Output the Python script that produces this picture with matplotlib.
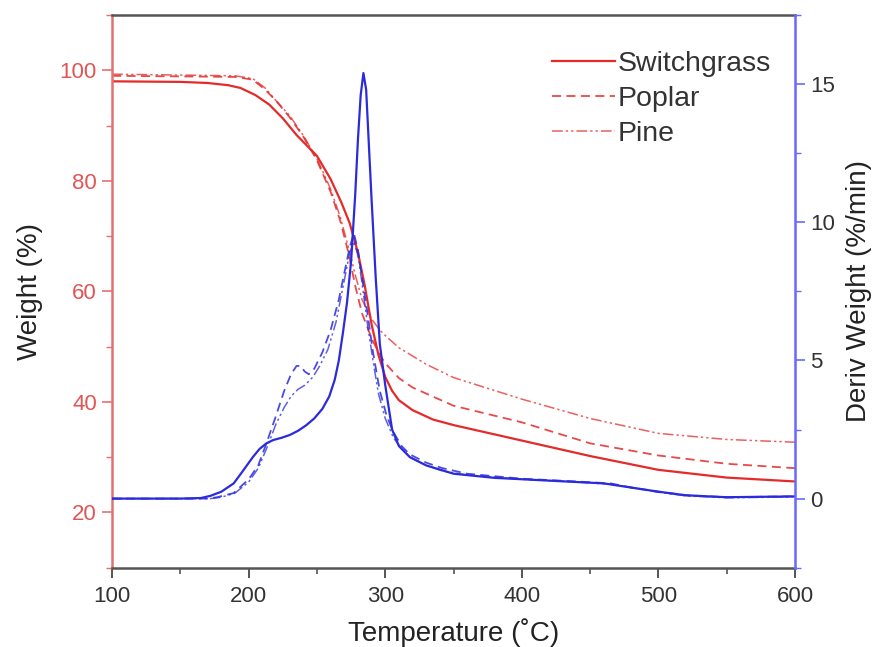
import matplotlib
matplotlib.use("Agg")
from matplotlib import pyplot as plt
from matplotlib.ticker import MultipleLocator

plt.rcParams['font.family'] = ['Liberation Sans', 'DejaVu Sans']

# ---------------- WEIGHT (TGA) ----------------
sw_t = [100, 150, 170, 185, 194, 205, 215, 225, 235, 250, 260, 268, 274, 280, 285,
        290, 295, 300, 305, 310, 320, 335, 350, 400, 450, 500, 550, 600]
sw_w = [98.0, 97.9, 97.7, 97.3, 96.8, 95.5, 93.8, 91.3, 88.3, 84.5, 80.3, 76.0, 72.3, 67.0, 61.0,
        54.0, 48.5, 44.5, 42.0, 40.3, 38.5, 36.8, 35.8, 33.0, 30.2, 27.7, 26.3, 25.6]

po_t = [100, 190, 203, 212, 220, 230, 240, 250, 260, 267, 273, 278, 283, 290, 296,
        300, 310, 320, 350, 400, 450, 500, 550, 600]
po_w = [99.0, 98.8, 98.3, 96.5, 94.5, 91.5, 88.0, 83.7, 78.0, 72.8, 67.0, 61.0, 56.0, 51.5, 48.5,
        47.0, 44.3, 42.6, 39.3, 36.3, 32.5, 30.3, 28.8, 28.0]

pi_t = [100, 190, 203, 212, 220, 230, 240, 250, 260, 267, 273, 278, 283, 290, 296,
        300, 310, 330, 350, 400, 450, 500, 550, 600]
pi_w = [99.3, 99.0, 98.5, 96.8, 94.5, 91.8, 88.2, 84.0, 78.5, 73.5, 68.0, 63.0, 58.5, 55.0, 53.0,
        52.0, 49.8, 46.8, 44.4, 40.5, 37.0, 34.3, 33.2, 32.7]

# ---------------- DERIV WEIGHT (DTG) ----------------
sw_dt = [100, 150, 165, 172, 180, 189, 195, 203, 208, 213, 218, 224, 230, 236, 242, 248,
         254, 259, 263, 266, 269, 272, 275, 278, 280, 282, 284, 286, 288, 290, 293, 296,
         300, 305, 310, 318, 330, 350, 380, 420, 460, 480, 500, 520, 550, 600]
sw_d = [0, 0, 0.02, 0.1, 0.25, 0.55, 0.95, 1.5, 1.8, 2.0, 2.12, 2.2, 2.3, 2.45, 2.65, 2.9,
        3.25, 3.7, 4.3, 5.0, 6.0, 7.1, 8.6, 11.0, 13.0, 14.6, 15.4, 14.8, 12.8, 10.8, 8.0, 5.6,
        4.1, 2.5, 1.9, 1.5, 1.2, 0.9, 0.75, 0.65, 0.55, 0.4, 0.25, 0.12, 0.05, 0.08]

po_dt = [100, 170, 177, 189, 200, 207, 213, 220, 226, 231, 235, 238, 241, 244, 248, 254,
         260, 266, 271, 274, 277, 280, 283, 287, 291, 296, 301, 306, 312, 318, 330, 342,
         360, 400, 440, 465, 480, 500, 520, 550, 600]
po_d = [0, 0, 0.05, 0.2, 0.7, 1.2, 2.0, 3.0, 3.9, 4.5, 4.8, 4.8, 4.6, 4.5, 4.7, 5.3,
        6.1, 7.2, 8.4, 9.1, 9.6, 9.0, 8.0, 6.7, 5.3, 3.9, 3.0, 2.4, 1.9, 1.6, 1.3, 1.1,
        0.9, 0.72, 0.62, 0.55, 0.4, 0.25, 0.12, 0.05, 0.08]

pi_dt = [100, 172, 180, 190, 200, 207, 213, 220, 226, 231, 236, 241, 247, 252, 258, 264,
         270, 274, 277, 280, 283, 287, 291, 295, 300, 306, 312, 318, 330, 342, 360, 400,
         440, 465, 480, 500, 520, 550, 600]
pi_d = [0, 0, 0.05, 0.2, 0.6, 1.1, 1.8, 2.7, 3.3, 3.7, 3.95, 4.1, 4.4, 4.8, 5.4, 6.4,
        7.9, 8.9, 9.3, 8.8, 7.8, 6.3, 5.0, 3.8, 2.9, 2.2, 1.8, 1.5, 1.2, 1.0, 0.85, 0.7,
        0.6, 0.52, 0.4, 0.23, 0.1, 0.03, 0.06]

red = "#e42a2a"
blue = "#2b2bdc"
dashed = (0, (5, 3))
dashdot = (0, (7, 2, 1.5, 2, 1.5, 2))

fig = plt.figure(figsize=(8.76, 6.47), dpi=100)
ax = fig.add_axes([0.128, 0.1226, 0.7795, 0.8542])
ax2 = ax.twinx()

ax.plot(sw_t, sw_w, color=red, lw=1.6, label="Switchgrass")
ax.plot(po_t, po_w, color=red, lw=1.3, ls=dashed, label="Poplar", alpha=0.85)
ax.plot(pi_t, pi_w, color=red, lw=1.1, ls=dashdot, label="Pine", alpha=0.75)

ax2.plot(sw_dt, sw_d, color=blue, lw=1.6)
ax2.plot(po_dt, po_d, color=blue, lw=1.3, ls=dashed, alpha=0.85)
ax2.plot(pi_dt, pi_d, color=blue, lw=1.1, ls=dashdot, alpha=0.75)

ax.set_xlim(100, 600)
ax.set_ylim(10, 110)
ax2.set_ylim(-2.5, 17.5)

ax.xaxis.set_major_locator(MultipleLocator(100))
ax.xaxis.set_minor_locator(MultipleLocator(50))
ax.yaxis.set_major_locator(MultipleLocator(20))
ax.yaxis.set_minor_locator(MultipleLocator(10))
ax2.set_yticks([0, 5, 10, 15])
ax2.yaxis.set_minor_locator(MultipleLocator(2.5))

# spines
ax.spines['left'].set_color("#e07272")
ax.spines['left'].set_linewidth(1.8)
ax.spines['bottom'].set_color("#555555")
ax.spines['bottom'].set_linewidth(1.8)
ax.spines['top'].set_color("#555555")
ax.spines['top'].set_linewidth(1.8)
ax2.spines['right'].set_color("#6a6aff")
ax2.spines['right'].set_linewidth(1.8)
ax2.spines['left'].set_visible(False)
ax2.spines['top'].set_visible(False)
ax2.spines['bottom'].set_visible(False)

ax.tick_params(axis='x', which='major', direction='out', length=7, width=1.4, pad=6,
               colors="#555555", labelcolor="#333333", labelsize=16)
ax.tick_params(axis='x', which='minor', direction='out', length=4, width=1.2, colors="#555555")
ax.tick_params(axis='y', which='major', direction='out', length=7, width=1.2, pad=4,
               colors="#e07272", labelcolor="#e05555", labelsize=16)
ax.tick_params(axis='y', which='minor', direction='out', length=4, width=1.0, colors="#e07272")
ax2.tick_params(axis='y', which='major', direction='out', length=7, width=1.2, pad=4,
                colors="#6a6aff", labelcolor="#333333", labelsize=16)
ax2.tick_params(axis='y', which='minor', direction='out', length=4, width=1.0, colors="#6a6aff")

ax.set_xlabel("Temperature (˚C)", fontsize=20, color="#222222", labelpad=8)
ax.set_ylabel("Weight (%)", fontsize=20, color="#222222", labelpad=12)
ax2.set_ylabel("Deriv Weight (%/min)", fontsize=20, color="#222222", labelpad=8)

leg = ax.legend(loc="upper right", bbox_to_anchor=(0.99, 0.965), frameon=False,
                fontsize=20.5, handlelength=2.2, handletextpad=0.1, labelspacing=0.3,
                borderaxespad=0.2)
for t in leg.get_texts():
    t.set_color("#333333")

fig.savefig("out.png", dpi=100)
